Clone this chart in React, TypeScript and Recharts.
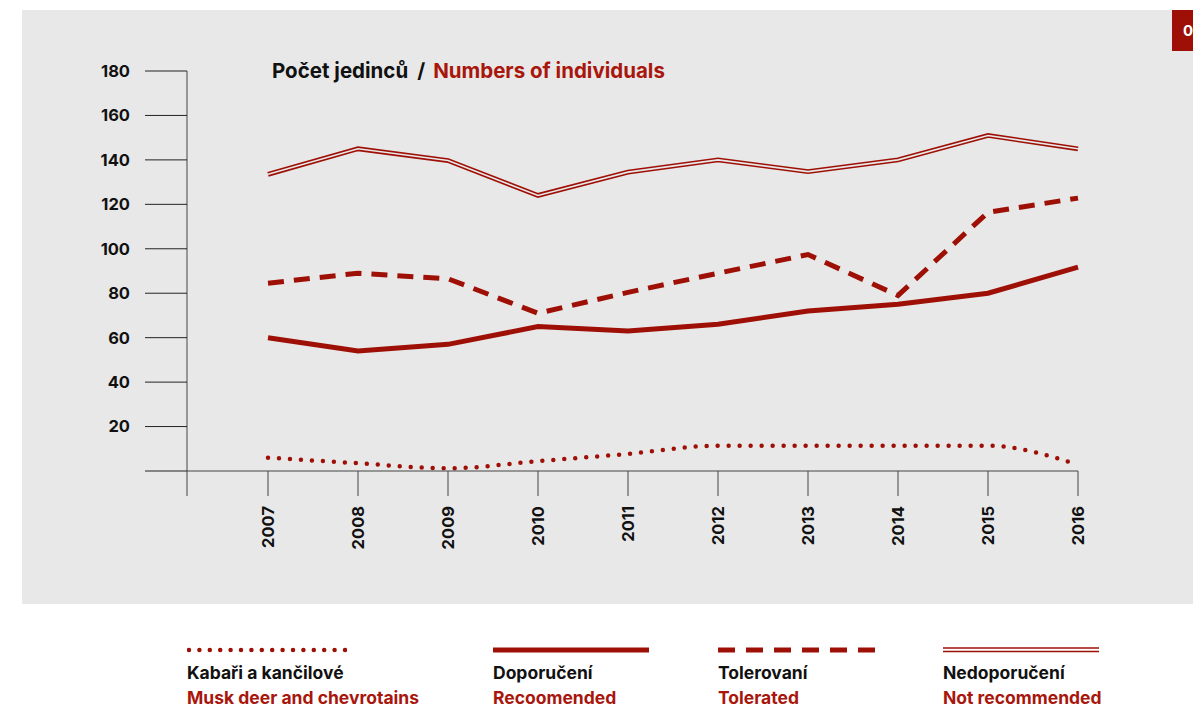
import React from 'react';
import { Line, LineChart, XAxis, YAxis } from 'recharts';

const years = [2007, 2008, 2009, 2010, 2011, 2012, 2013, 2014, 2015, 2016];
const muskDeer = [6, 3.5, 1.2, 4.4, 7.7, 11.4, 11.4, 11.4, 11.4, 2.8];
const recommended = [60, 54, 57, 65, 63, 66, 72, 75, 80, 91.7];
const tolerated = [84.5, 89, 86.5, 71, 80.4, 89, 97.4, 79, 116.4, 122.8];
const notRecommended = [133.5, 145, 139.7, 124, 134.5, 140, 134.7, 140, 151, 145];
const yTicks = [0, 20, 40, 60, 80, 100, 120, 140, 160, 180];
const axisStart = 2006.1;

const RED = '#9e1006';
const TEXT_RED = '#a8160c';
const PANEL = '#e8e8e8';
const FONT = 'Inter, "Noto Sans", sans-serif';

const data = years.map((year, i) => ({
  year,
  musk: muskDeer[i],
  rec: recommended[i],
  tol: tolerated[i],
  notRec: notRecommended[i]
}));

const legendItems = [
  { cz: 'Kabaři a kančilové', en: 'Musk deer and chevrotains', kind: 'dot', x: 187, w: 160 },
  { cz: 'Doporučení', en: 'Recoomended', kind: 'solid', x: 493, w: 156 },
  { cz: 'Tolerovaní', en: 'Tolerated', kind: 'dash', x: 718, w: 157 },
  { cz: 'Nedoporučení', en: 'Not recommended', kind: 'double', x: 943, w: 156 }
];

function YearTick(props: any) {
  const { x, y, payload } = props;
  if (payload.value === axisStart) return null;
  return (
    <text
      dy='0.36em'
      fill='#111'
      fontFamily={FONT}
      fontSize={16.5}
      fontWeight={700}
      textAnchor='end'
      transform={`rotate(-90, ${x}, ${y + 8})`}
      x={x}
      y={y + 8}
    >
      {payload.value}
    </text>
  );
}

function LegendSample({ kind, w }: { kind: string; w: number }) {
  return (
    <svg height={10} style={{ display: 'block' }} width={w}>
      {kind === 'dot' && (
        <line stroke={RED} strokeDasharray='0 10.4' strokeLinecap='round' strokeWidth={4.5} x1={2} x2={w - 2} y1={5} y2={5} />
      )}
      {kind === 'solid' && <line stroke={RED} strokeWidth={5} x1={0} x2={w} y1={5} y2={5} />}
      {kind === 'dash' && <line stroke={RED} strokeDasharray='17 11' strokeWidth={5} x1={0} x2={w} y1={5} y2={5} />}
      {kind === 'double' && (
        <g>
          <line stroke={RED} strokeWidth={1.5} x1={0} x2={w} y1={3} y2={3} />
          <line stroke={RED} strokeWidth={1.5} x1={0} x2={w} y1={6.5} y2={6.5} />
        </g>
      )}
    </svg>
  );
}

export default function App() {
  return (
    <div style={{ position: 'fixed', left: 0, top: 0, width: 1193, height: 707, background: '#fff', fontFamily: FONT, overflow: 'hidden' }}>
      <div style={{ position: 'absolute', left: 22, top: 10, width: 1171, height: 594, background: PANEL }} />
      <div style={{ position: 'absolute', left: 1172, top: 10, width: 30, height: 41, background: RED, color: '#fff', fontWeight: 700, fontSize: 15, lineHeight: '41px', paddingLeft: 11, boxSizing: 'border-box' }}>0</div>

      <div style={{ position: 'absolute', left: 0, top: 0 }}>
        <LineChart
          data={data}
          height={604}
          margin={{ top: 71, right: 115, left: 0, bottom: 0 }}
          width={1193}
        >
          <XAxis
            axisLine={{ stroke: '#444' }}
            dataKey='year'
            domain={[axisStart, 2016]}
            height={133}
            interval={0}
            tick={<YearTick />}
            tickLine={{ stroke: '#444' }}
            tickSize={25}
            ticks={[axisStart, ...years]}
            type='number'
          />
          <YAxis
            axisLine={{ stroke: '#444' }}
            domain={[0, 180]}
            interval={0}
            tick={{ fill: '#111', fontFamily: FONT, fontSize: 16.5, fontWeight: 700 }}
            tickFormatter={(v: number) => (v === 0 ? '' : String(v))}
            tickLine={{ stroke: '#222' }}
            tickMargin={15}
            tickSize={42}
            ticks={yTicks}
            type='number'
            width={187}
          />
          <Line dataKey='notRec' dot={false} isAnimationActive={false} key='nr-outer' stroke={RED} strokeLinejoin='miter' strokeWidth={4.8} type='linear' />
          <Line dataKey='notRec' dot={false} isAnimationActive={false} key='nr-inner' stroke={PANEL} strokeLinejoin='miter' strokeWidth={1.6} type='linear' />
          <Line dataKey='tol' dot={false} isAnimationActive={false} stroke={RED} strokeDasharray='16 10' strokeWidth={5} type='linear' />
          <Line dataKey='rec' dot={false} isAnimationActive={false} stroke={RED} strokeWidth={5} type='linear' />
          <Line dataKey='musk' dot={false} isAnimationActive={false} stroke={RED} strokeDasharray='0 11' strokeLinecap='round' strokeWidth={4.5} type='monotone' />
        </LineChart>
      </div>

      <div style={{ position: 'absolute', left: 272, top: 58, fontSize: 20.5, fontWeight: 700, whiteSpace: 'pre', lineHeight: '26px' }}>
        <span style={{ color: '#111' }}>Počet jedinců</span>
        <span style={{ color: '#111', margin: '0 8px 0 9px' }}>/</span>
        <span style={{ color: TEXT_RED }}>Numbers of individuals</span>
      </div>

      {legendItems.map(item => (
        <div key={item.cz} style={{ position: 'absolute', left: item.x, top: 645 }}>
          <LegendSample kind={item.kind} w={item.w} />
          <div style={{ marginTop: 7, fontSize: 17.5, fontWeight: 700, color: '#111', whiteSpace: 'nowrap', lineHeight: '22px' }}>{item.cz}</div>
          <div style={{ marginTop: 3, fontSize: 17.5, fontWeight: 700, color: TEXT_RED, whiteSpace: 'nowrap', lineHeight: '22px' }}>{item.en}</div>
        </div>
      ))}
    </div>
  );
}
